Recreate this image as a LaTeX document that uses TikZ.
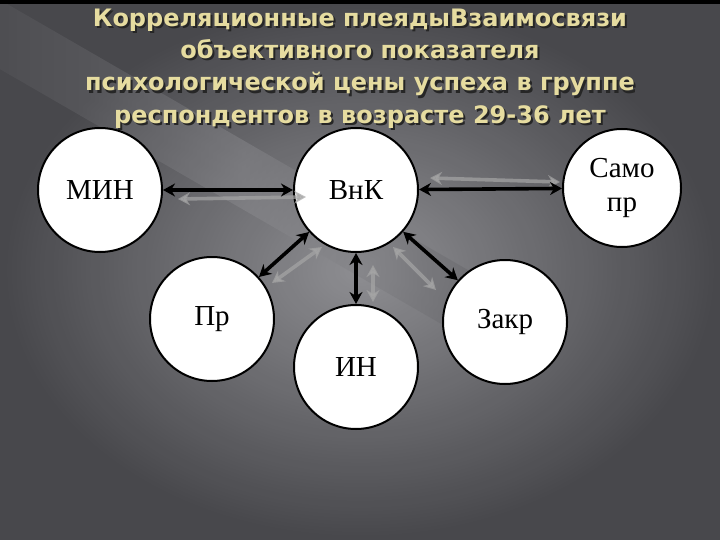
\documentclass[tikz,border=0pt]{standalone}
\usepackage{fontspec}
\setmainfont{Liberation Serif}
\newfontfamily\titlefont{DejaVu Sans}
\usetikzlibrary{arrows.meta}
\definecolor{bgdark}{HTML}{48484C}
\definecolor{bglight}{HTML}{96969A}
\definecolor{titlecol}{HTML}{E6DCA0}
\tikzset{
  circ/.style={circle,draw=black,line width=2pt,fill=white,minimum size=124pt,inner sep=0pt,font=\fontsize{29}{34}\selectfont,align=center},
  blk/.style={draw=black,line width=3.6pt,{Stealth[length=12pt,width=13pt]}-{Stealth[length=12pt,width=13pt]}},
  gry/.style={draw=gray!70,line width=3.6pt,opacity=0.7,{Stealth[length=12pt,width=13pt]}-{Stealth[length=12pt,width=13pt]}},
  ttl/.style={font=\titlefont\bfseries\fontsize{24}{32.5}\selectfont,align=center}
}
\begin{document}
\begin{tikzpicture}[x=1pt,y=-1pt]
\useasboundingbox (0,0) rectangle (720,540);
\fill[bgdark] (0,0) rectangle (720,540);
\shade[inner color=bglight,outer color=bgdark,opacity=0.9] (0,0) rectangle (720,540);
\shade[left color=bgdark,right color=bgdark,middle color=bglight,opacity=0.35,rotate around={-30:(200,150)}] (-100,120) rectangle (600,180);
\fill[black] (0,0) rectangle (720,4);
\node[ttl,text=black!85] at (362,70.5)
 {Корреляционные плеядыВзаимосвязи\\объективного показателя\\психологической цены успеха в группе\\респондентов в возрасте 29-36 лет};
\node[ttl,text=titlecol] (title) at (360,68.5)
 {Корреляционные плеядыВзаимосвязи\\объективного показателя\\психологической цены успеха в группе\\респондентов в возрасте 29-36 лет};
\node[circ] (min) at (100,190) {МИН};
\node[circ] (vnk) at (356,190) {ВнК};
\node[circ,minimum size=118pt] (samo) at (622,188) {Само\\пр};
\node[circ] (pr) at (212,319) {Пр};
\node[circ] (zakr) at (505,322) {Закр};
\node[circ] (in) at (356,367) {ИН};
\coordinate (g1a) at (178,199); \coordinate (g1b) at (306,197);
\coordinate (g2a) at (430,178); \coordinate (g2b) at (560,182);
\coordinate (g3a) at (322,247); \coordinate (g3b) at (272,283);
\coordinate (g4a) at (373,302); \coordinate (g4b) at (373,265);
\coordinate (g5a) at (393,247); \coordinate (g5b) at (436,290);
\draw[gry] (g1a) -- (g1b);
\draw[gry] (g2a) -- (g2b);
\draw[gry] (g3a) -- (g3b);
\draw[gry] (g4a) -- (g4b);
\draw[gry] (g5a) -- (g5b);
\draw[blk] (min) -- (vnk);
\draw[blk] (vnk) -- (samo);
\draw[blk] (vnk) -- (pr);
\draw[blk] (vnk) -- (in);
\draw[blk] (vnk) -- (zakr);
\end{tikzpicture}
\end{document}
